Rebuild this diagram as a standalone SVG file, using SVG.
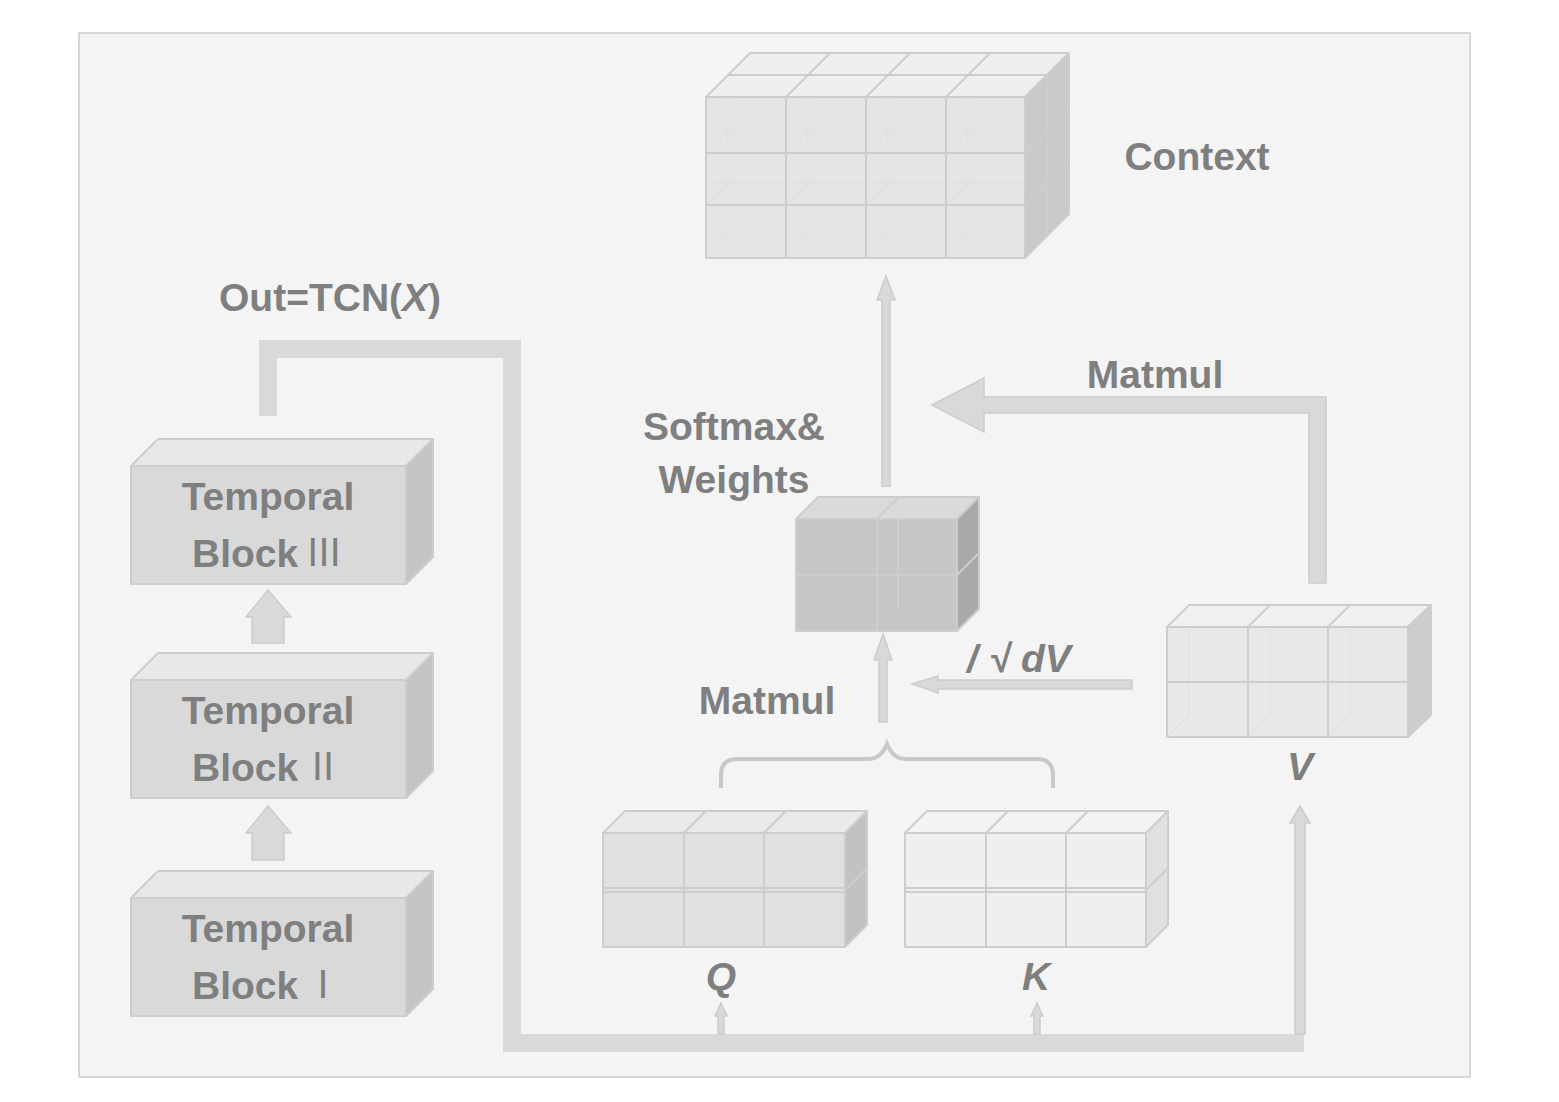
<svg xmlns="http://www.w3.org/2000/svg" width="1559" height="1102" viewBox="0 0 1559 1102">
<style>
.t{font-family:"Liberation Sans",Arial,sans-serif;font-weight:bold;fill:#7f7f7f;font-size:39px}
.i{font-style:italic}
.rn{font-family:"Noto Sans CJK SC","Liberation Sans",sans-serif;font-weight:normal;fill:#7f7f7f;font-size:38px}
.e{stroke:#cdcdcd;stroke-width:2;stroke-linejoin:round}
.g{stroke:#cdcdcd;stroke-width:2;fill:none}
.f{stroke:#dcdcdc;stroke-width:1.2;fill:none;opacity:0.6}
.arr{fill:#d9d9d9;stroke:#cccccc;stroke-width:1.5}
.blk-front{fill:#d9d9d9}
.blk-top{fill:#e8e8e8}
.blk-right{fill:#c4c4c4}
</style>
<rect x="0" y="0" width="1559" height="1102" fill="#ffffff"/>
<rect x="79" y="33" width="1391" height="1044" fill="#f4f4f4" stroke="#cccccc" stroke-width="1.5"/>

<g id="connectors">
  <path d="M268,416 V349 H512 V1043 H1304" fill="none" stroke="#d9d9d9" stroke-width="18"/>
  <polygon class="arr" points="1300,806 1310,823 1305,823 1305,1034 1295,1034 1295,823 1290,823"/>
  <polygon class="arr" points="721,1003 727,1016 724,1016 724,1034 718,1034 718,1016 715,1016"/>
  <polygon class="arr" points="1037,1003 1043,1016 1040,1016 1040,1034 1034,1034 1034,1016 1031,1016"/>
  <polygon class="arr" points="268,590 291,617 284,617 284,643 252,643 252,617 246,617"/>
  <polygon class="arr" points="268,806 291,833 284,833 284,860 252,860 252,833 246,833"/>
  <polygon class="arr" points="886,276 895,300 890,300 890,486 882,486 882,300 877,300"/>
  <polygon class="arr" points="883,634 892,660 887,660 887,722 879,722 879,660 874,660"/>
  <polygon class="arr" points="932,405 984,378 984,397 1326,397 1326,583 1309,583 1309,413 984,413 984,432"/>
  <polygon class="arr" points="912,684 938,676 938,680 1132,680 1132,689 938,689 938,693"/>
  <path d="M721,788 V775 Q721,759 737,759 H868 Q881,759 887,744 Q893,759 906,759 H1037 Q1053,759 1053,775 V788" fill="none" stroke="#c8c8c8" stroke-width="4"/>
</g>

<g id="context">
  <polygon class="e" fill="#efefef" points="706,97 750,53 1069,53 1025,97"/>
  <polygon class="e" fill="#cacaca" points="1025,97 1069,53 1069,214 1025,258"/>
  <rect class="e" x="706" y="97" width="319" height="161" fill="#e5e5e5"/>
  <path class="f" d="M728,97 V236 M808,97 V236 M888,97 V236 M968,97 V236 M706,131 H1025 M706,183 H1025 M706,236 H1025 M706,153 L728,131 M786,153 L808,131 M866,153 L888,131 M946,153 L968,131 M706,205 L728,183 M786,205 L808,183 M866,205 L888,183 M946,205 L968,183 M706,258 L728,236 M786,258 L808,236 M866,258 L888,236 M946,258 L968,236"/>
  <path class="g" d="M786,97 V258 M866,97 V258 M946,97 V258 M706,153 H1025 M706,205 H1025"/>
  <path class="g" d="M786,97 L830,53 M866,97 L910,53 M946,97 L990,53 M728,75 H1047"/>
  <path class="g" d="M1025,153 L1069,109 M1025,205 L1069,161 M1047,75 V236"/>
  <text class="t" x="1197" y="170" text-anchor="middle" font-size="38">Context</text>
</g>

<g id="out-label">
  <text class="t" x="219" y="311" font-size="38">Out=TCN(<tspan class="i">X</tspan>)</text>
</g>

<g id="temporal-block-3">
  <polygon class="e blk-top" points="131,466 158,439 433,439 406,466"/>
  <polygon class="e blk-right" points="406,466 433,439 433,557 406,584"/>
  <rect class="e blk-front" x="131" y="466" width="275" height="118"/>
  <text class="t" x="268" y="510" text-anchor="middle">Temporal</text>
  <text class="t" x="192" y="567">Block</text>
  <text class="rn" x="324" y="566" text-anchor="middle">Ⅲ</text>
</g>

<g id="temporal-block-2">
  <polygon class="e blk-top" points="131,680 158,653 433,653 406,680"/>
  <polygon class="e blk-right" points="406,680 433,653 433,771 406,798"/>
  <rect class="e blk-front" x="131" y="680" width="275" height="118"/>
  <text class="t" x="268" y="724" text-anchor="middle">Temporal</text>
  <text class="t" x="192" y="781">Block</text>
  <text class="rn" x="323" y="780" text-anchor="middle">Ⅱ</text>
</g>

<g id="temporal-block-1">
  <polygon class="e blk-top" points="131,898 158,871 433,871 406,898"/>
  <polygon class="e blk-right" points="406,898 433,871 433,989 406,1016"/>
  <rect class="e blk-front" x="131" y="898" width="275" height="118"/>
  <text class="t" x="268" y="942" text-anchor="middle">Temporal</text>
  <text class="t" x="192" y="999">Block</text>
  <text class="rn" x="323" y="998" text-anchor="middle">Ⅰ</text>
</g>

<g id="softmax">
  <polygon class="e" fill="#dadada" points="796,519 818,497 979,497 957,519"/>
  <polygon class="e" fill="#a9a9a9" points="957,519 979,497 979,609 957,631"/>
  <rect class="e" x="796" y="519" width="161" height="112" fill="#c6c6c6"/>
  <path class="f" d="M898,519 V609" stroke="#bdbdbd"/>
  <path class="g" d="M877,519 V631 M796,575 H957 M877,519 L899,497 M957,575 L979,553"/>
  <text class="t" x="734" y="440" text-anchor="middle">Softmax&amp;</text>
  <text class="t" x="734" y="493" text-anchor="middle">Weights</text>
</g>

<g id="matmul-labels">
  <text class="t" x="1155" y="388" text-anchor="middle" font-size="40">Matmul</text>
  <text class="t" x="767" y="714" text-anchor="middle" font-size="40">Matmul</text>
  <text class="t i" x="967" y="672" font-size="36">/ √ dV</text>
</g>

<g id="v-block">
  <polygon class="e" fill="#f0f0f0" points="1167,627 1189,605 1431,605 1408,627"/>
  <polygon class="e" fill="#cdcdcd" points="1408,627 1431,605 1431,715 1408,737"/>
  <rect class="e" x="1167" y="627" width="241" height="110" fill="#e8e8e8"/>
  <path class="f" d="M1189,627 V715 M1270,627 V715 M1350,627 V715 M1167,737 L1189,715 M1248,737 L1270,715 M1328,737 L1350,715"/>
  <path class="g" d="M1248,627 V737 M1328,627 V737 M1167,682 H1408 M1248,627 L1270,605 M1328,627 L1350,605 M1408,682 L1431,660"/>
  <text class="t i" x="1300" y="780" text-anchor="middle">V</text>
</g>

<g id="q-block">
  <polygon class="e" fill="#eaeaea" points="603,833 625,811 867,811 845,833"/>
  <polygon class="e" fill="#c2c2c2" points="845,833 867,811 867,925 845,947"/>
  <rect class="e" x="603" y="833" width="242" height="114" fill="#e0e0e0"/>
  <path class="g" d="M684,833 V947 M764,833 V947 M603,888 H845 M603,892 H845 M684,833 L706,811 M764,833 L786,811 M845,890 L867,868"/>
  <text class="t i" x="721" y="990" text-anchor="middle">Q</text>
</g>

<g id="k-block">
  <polygon class="e" fill="#f3f3f3" points="905,833 927,811 1168,811 1146,833"/>
  <polygon class="e" fill="#e0e0e0" points="1146,833 1168,811 1168,925 1146,947"/>
  <rect class="e" x="905" y="833" width="241" height="114" fill="#efefef"/>
  <path class="g" d="M986,833 V947 M1066,833 V947 M905,888 H1146 M905,892 H1146 M986,833 L1008,811 M1066,833 L1088,811 M1146,890 L1168,868"/>
  <text class="t i" x="1036" y="990" text-anchor="middle">K</text>
</g>
</svg>
